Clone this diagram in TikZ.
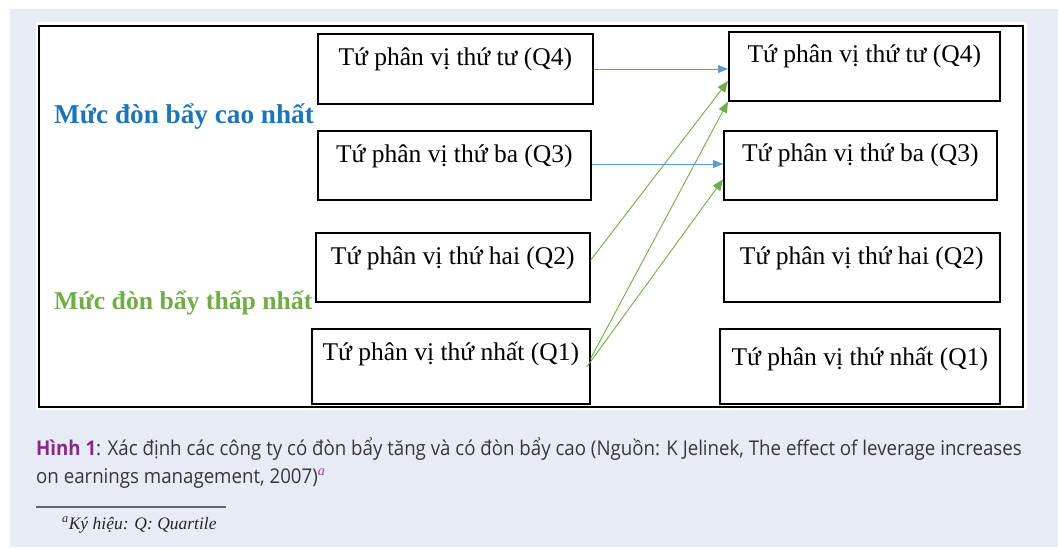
\documentclass[tikz,border=0pt]{standalone}
\usepackage{fontspec}
\setmainfont{Liberation Serif}
\newfontfamily\capfont[FakeStretch=0.92]{Open Sans}
\usetikzlibrary{arrows.meta,calc}
\definecolor{bgc}{RGB}{231,235,245}
\definecolor{lblblue}{RGB}{27,117,188}
\definecolor{lblgreen}{RGB}{112,173,71}
\definecolor{arrblue}{RGB}{91,155,213}
\definecolor{arrgreen}{RGB}{112,173,71}
\definecolor{capgray}{RGB}{55,55,60}
\definecolor{cappurple}{RGB}{140,38,140}
\definecolor{supmag}{RGB}{175,50,175}
\definecolor{rulegray}{RGB}{100,100,110}
\begin{document}
\begin{tikzpicture}[x=1pt,y=-1pt,
  qbox/.style={draw=black, line width=1.6pt, inner sep=0pt, anchor=north west,
    text height=32pt, font=\fontsize{25.5}{30}\selectfont},
  lvl/.style={anchor=west, inner sep=0pt},
  blu/.style={draw=arrblue, line width=0.9pt, -{Triangle[length=10pt,width=8pt]}},
  grn/.style={draw=arrgreen, line width=0.9pt, -{Triangle[length=11pt,width=9pt]}},
  captxt/.style={anchor=base west, inner sep=0pt, text=capgray, font=\capfont\fontsize{20.3}{28}\selectfont}
]
\useasboundingbox (0,0) rectangle (1058,547);
\fill[bgc] (10,9) rectangle (1058,547);
\fill[white] (36,22) rectangle (1027,410);
\draw[black, line width=2.2pt] (39,26) rectangle (1023,407);

% left column
\node[qbox, minimum width=275pt, text depth=38pt] (q4l) at (317,33) {Tứ phân vị thứ tư (Q4)};
\node[qbox, minimum width=273pt, text depth=37pt] (q3l) at (317,130) {Tứ phân vị thứ ba (Q3)};
\node[qbox, minimum width=274pt, text depth=37pt] (q2l) at (315,232) {Tứ phân vị thứ hai (Q2)};
\node[qbox, minimum width=278pt, text depth=43pt] (q1l) at (311,328) {Tứ phân vị thứ nhất (Q1)};
% right column
\node[qbox, minimum width=271pt, text height=31pt, text depth=38pt] (q4r) at (728,31) {Tứ phân vị thứ tư (Q4)};
\node[qbox, minimum width=273pt, text height=31pt, text depth=38pt] (q3r) at (723,130) {Tứ phân vị thứ ba (Q3)};
\node[qbox, minimum width=276pt, text depth=37pt] (q2r) at (723,232) {Tứ phân vị thứ hai (Q2)};
\node[qbox, minimum width=280pt, text height=37pt, text depth=38pt] (q1r) at (719,328) {Tứ phân vị thứ nhất (Q1)};

% level labels
\node[lvl, text=lblblue, font=\bfseries\fontsize{27.2}{30}\selectfont] (hi) at (54,117) {Mức đòn bẩy cao nhất};
\node[lvl, text=lblgreen, font=\bfseries\fontsize{25.7}{30}\selectfont] (lo) at (54,303) {Mức đòn bẩy thấp nhất};

% arrows
\draw[blu] (q4l.east |- 0,69) -- (q4r.west |- 0,69);
\draw[blu] (q3l.east |- 0,164) -- (q3r.west |- 0,164);
\coordinate (s2) at ($(q2l.north east)!0.40!(q2l.south east)$);
\coordinate (t2) at ($(q4r.north west)!0.71!(q4r.south west)$);
\draw[grn] (s2) -- (t2);
\coordinate (s1a) at ($(q1l.north east)!0.40!(q1l.south east)$);
\draw[grn] (s1a) -- (q4r.south west);
\coordinate (s1b) at ($(q1l.north east)!0.51!(q1l.south east)+(-4,0)$);
\coordinate (t1b) at ($(q3r.north west)!0.70!(q3r.south west)$);
\draw[grn] (s1b) -- (t1b);

% caption
\node[captxt] (cap1) at (36,455) {{\bfseries\color{cappurple}Hình 1}: Xác định các công ty có đòn bẩy tăng và có đòn bẩy cao (Nguồn: K Jelinek, The effect of leverage increases};
\node[captxt] (cap2) at (36,483) {on earnings management, 2007)\textsuperscript{\normalfont\itshape\color{supmag}a}};
\draw[rulegray, line width=1.5pt] (36,507) -- (226,507);
\node[anchor=base west, inner sep=0pt, font=\itshape\fontsize{17.5}{20}\selectfont, text=black!85] (fn) at (62,529) {\textsuperscript{a}Ký hiệu: Q: Quartile};
\end{tikzpicture}
\end{document}
